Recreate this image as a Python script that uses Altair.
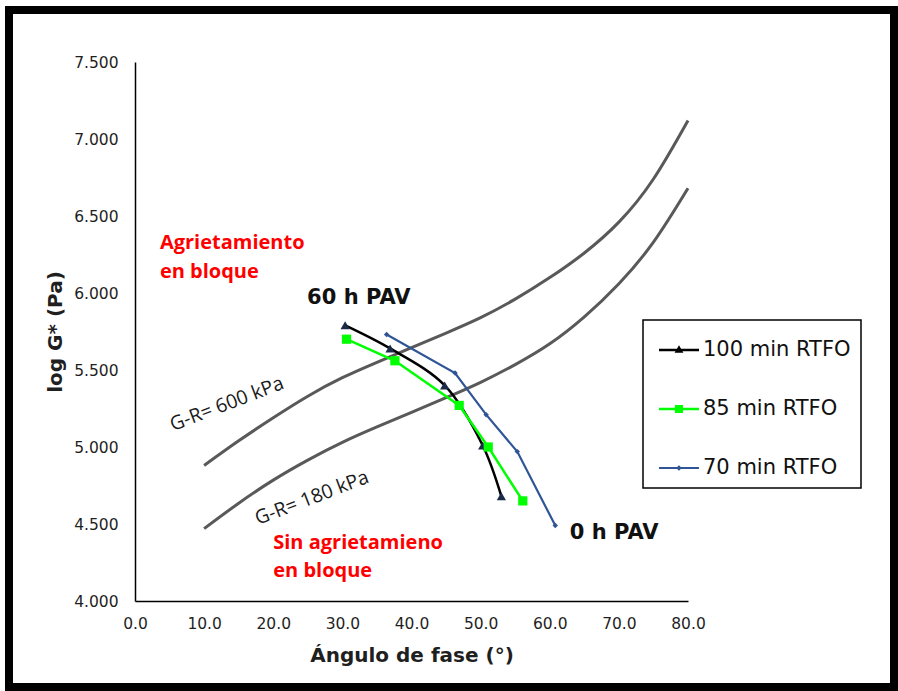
import altair as alt
import pandas as pd

# Glover-Rowe reference curves (phase angle in degrees vs log G*)
gr_delta = [10, 15, 20, 25, 30, 35, 40, 45, 50, 55, 60, 65, 70, 75, 80]
gr600_logg = [4.88, 5.04, 5.19, 5.33, 5.45, 5.55, 5.645, 5.74, 5.84, 5.96, 6.10, 6.26, 6.46, 6.74, 7.12]
gr180_logg = [4.47, 4.635, 4.785, 4.915, 5.03, 5.13, 5.225, 5.32, 5.42, 5.535, 5.67, 5.845, 6.06, 6.33, 6.68]

# Aging paths (0 h PAV -> 60 h PAV) for each RTFO time
series_names = ["100 min RTFO", "85 min RTFO", "70 min RTFO"]
rtfo100_delta = [30.4, 36.9, 44.8, 50.3, 53.0]
rtfo100_logg = [5.79, 5.64, 5.40, 5.01, 4.68]
rtfo85_delta = [30.6, 37.6, 46.9, 51.1, 56.1]
rtfo85_logg = [5.70, 5.56, 5.27, 5.00, 4.65]
rtfo70_delta = [36.4, 46.3, 50.8, 55.3, 60.8]
rtfo70_logg = [5.73, 5.48, 5.21, 4.97, 4.49]

x_ticks = [0, 10, 20, 30, 40, 50, 60, 70, 80]
y_ticks = [4.0, 4.5, 5.0, 5.5, 6.0, 6.5, 7.0, 7.5]

line_colors = ["#000000", "#00FF00", "#2F5597"]
marker_colors = ["#1B2A47", "#00FF00", "#2F5597"]

gr_df = pd.DataFrame({
    "delta": gr_delta * 2,
    "logg": gr600_logg + gr180_logg,
    "curve": ["600"] * len(gr_delta) + ["180"] * len(gr_delta),
})

series_df = pd.DataFrame({
    "delta": rtfo100_delta + rtfo85_delta + rtfo70_delta,
    "logg": rtfo100_logg + rtfo85_logg + rtfo70_logg,
    "serie": [series_names[0]] * 5 + [series_names[1]] * 5 + [series_names[2]] * 5,
})

red_labels = pd.DataFrame({
    "delta": [3.6, 3.6, 20.0, 20.0],
    "logg": [6.325, 6.136, 4.377, 4.195],
    "text": ["Agrietamiento", "en bloque", "Sin agrietamieno", "en bloque"],
})
pav_labels = pd.DataFrame({
    "delta": [24.9, 62.9],
    "logg": [5.967, 4.44],
    "text": ["60 h PAV", "0 h PAV"],
})
gr_labels = pd.DataFrame({
    "delta": [13.3, 25.6],
    "logg": [5.279, 4.669],
    "text": ["G-R= 600 kPa", "G-R= 180 kPa"],
})

x_scale = alt.Scale(domain=[0, 80], nice=False)
y_scale = alt.Scale(domain=[4.0, 7.5], nice=False)

x_enc = alt.X(
    "delta:Q", scale=x_scale,
    axis=alt.Axis(
        values=x_ticks, format=".1f", title="Ángulo de fase (°)",
        grid=False, ticks=False, tickSize=0, labelPadding=15, labelFlush=False,
        labelFont="DejaVu Sans", labelFontSize=15.5, labelColor="#1f1f1f",
        titleFont="DejaVu Sans", titleFontWeight="bold", titleFontSize=20,
        titleColor="#1f1f1f", titlePadding=14,
        domainColor="#000000", domainWidth=1.5,
    ),
)
y_enc = alt.Y(
    "logg:Q", scale=y_scale,
    axis=alt.Axis(
        values=y_ticks, format=".3f", title="log G* (Pa)",
        grid=False, ticks=False, tickSize=0, labelPadding=17, labelFlush=False,
        labelFont="DejaVu Sans", labelFontSize=15.5, labelColor="#1f1f1f",
        titleFont="DejaVu Sans", titleFontWeight="bold", titleFontSize=20,
        titleColor="#1f1f1f", titlePadding=8,
        domainColor="#000000", domainWidth=1.5,
    ),
)

# Outer frame around the whole figure
frame = alt.Chart(pd.DataFrame({"k": [0]})).mark_rect(
    filled=False, stroke="#000000", strokeWidth=8
).encode(
    x=alt.value(-126), x2=alt.value(759), y=alt.value(-52), y2=alt.value(625)
)

gr_lines = alt.Chart(gr_df).mark_line(
    color="#595959", strokeWidth=3, interpolate="natural"
).encode(x=x_enc, y=y_enc, detail="curve:N")

layers = [frame, gr_lines]

interps = ["catmull-rom", "linear", "linear"]
shapes = ["triangle-up", "square", "diamond"]
sizes = [85, 85, 30]
widths = [2.5, 2.5, 2.2]
for name, lc, mc, itp, shp, sz, w in zip(series_names, line_colors, marker_colors,
                                         interps, shapes, sizes, widths):
    base = alt.Chart(series_df).transform_filter(alt.datum.serie == name)
    layers.append(base.mark_line(color=lc, strokeWidth=w, interpolate=itp).encode(x=x_enc, y=y_enc))
    layers.append(base.mark_point(shape=shp, filled=True, color=mc, size=sz, opacity=1).encode(x=x_enc, y=y_enc))

# Legend entries: a line with the series marker in the middle
legend_paths = [
    "M-1,-0.06H1V0.06H-1Z M0,-0.24L0.22,0.14H-0.22Z",
    "M-1,-0.06H1V0.06H-1Z M-0.2,-0.2H0.2V0.2H-0.2Z",
    "M-1,-0.05H1V0.05H-1Z M0,-0.14L0.14,0L0,0.14L-0.14,0Z",
]
legend_props = dict(
    title=None, orient="none", legendX=508, legendY=258,
    strokeColor="#000000", padding=10, rowPadding=29,
    symbolSize=1600, symbolStrokeWidth=0, symbolOffset=6, labelOffset=4,
    labelFont="DejaVu Sans", labelFontSize=21, labelColor="#111111",
    labelLimit=300,
)
legend_layer = alt.Chart(series_df).transform_filter("false").mark_point(
    filled=True, size=1600, opacity=1
).encode(
    x=x_enc, y=y_enc,
    color=alt.Color("serie:N", scale=alt.Scale(domain=series_names, range=line_colors),
                    legend=alt.Legend(**legend_props)),
    shape=alt.Shape("serie:N", scale=alt.Scale(domain=series_names, range=legend_paths),
                    legend=alt.Legend(**legend_props)),
)
layers.append(legend_layer)

red_text = alt.Chart(red_labels).mark_text(
    align="left", baseline="middle", font="Open Sans", fontWeight="bold",
    fontSize=20, color="#FF0000"
).encode(x=x_enc, y=y_enc, text="text:N")
pav_text = alt.Chart(pav_labels).mark_text(
    align="left", baseline="middle", font="DejaVu Sans", fontWeight="bold",
    fontSize=21, color="#111111"
).encode(x=x_enc, y=y_enc, text="text:N")
gr_text = alt.Chart(gr_labels).mark_text(
    align="center", baseline="middle", font="Open Sans", fontSize=19.5,
    angle=339, color="#1a1a1a"
).encode(x=x_enc, y=y_enc, text="text:N")
layers += [red_text, pav_text, gr_text]

chart = alt.layer(*layers).properties(
    width=553, height=539,
    autosize=alt.AutoSizeParams(type="none"),
    padding={"left": 135, "top": 62, "right": 210, "bottom": 90},
    background="#FFFFFF",
).configure_view(stroke=None).configure_legend(strokeWidth=1.5)

chart.save("out.html", embed_options={"renderer": "svg", "actions": False})
